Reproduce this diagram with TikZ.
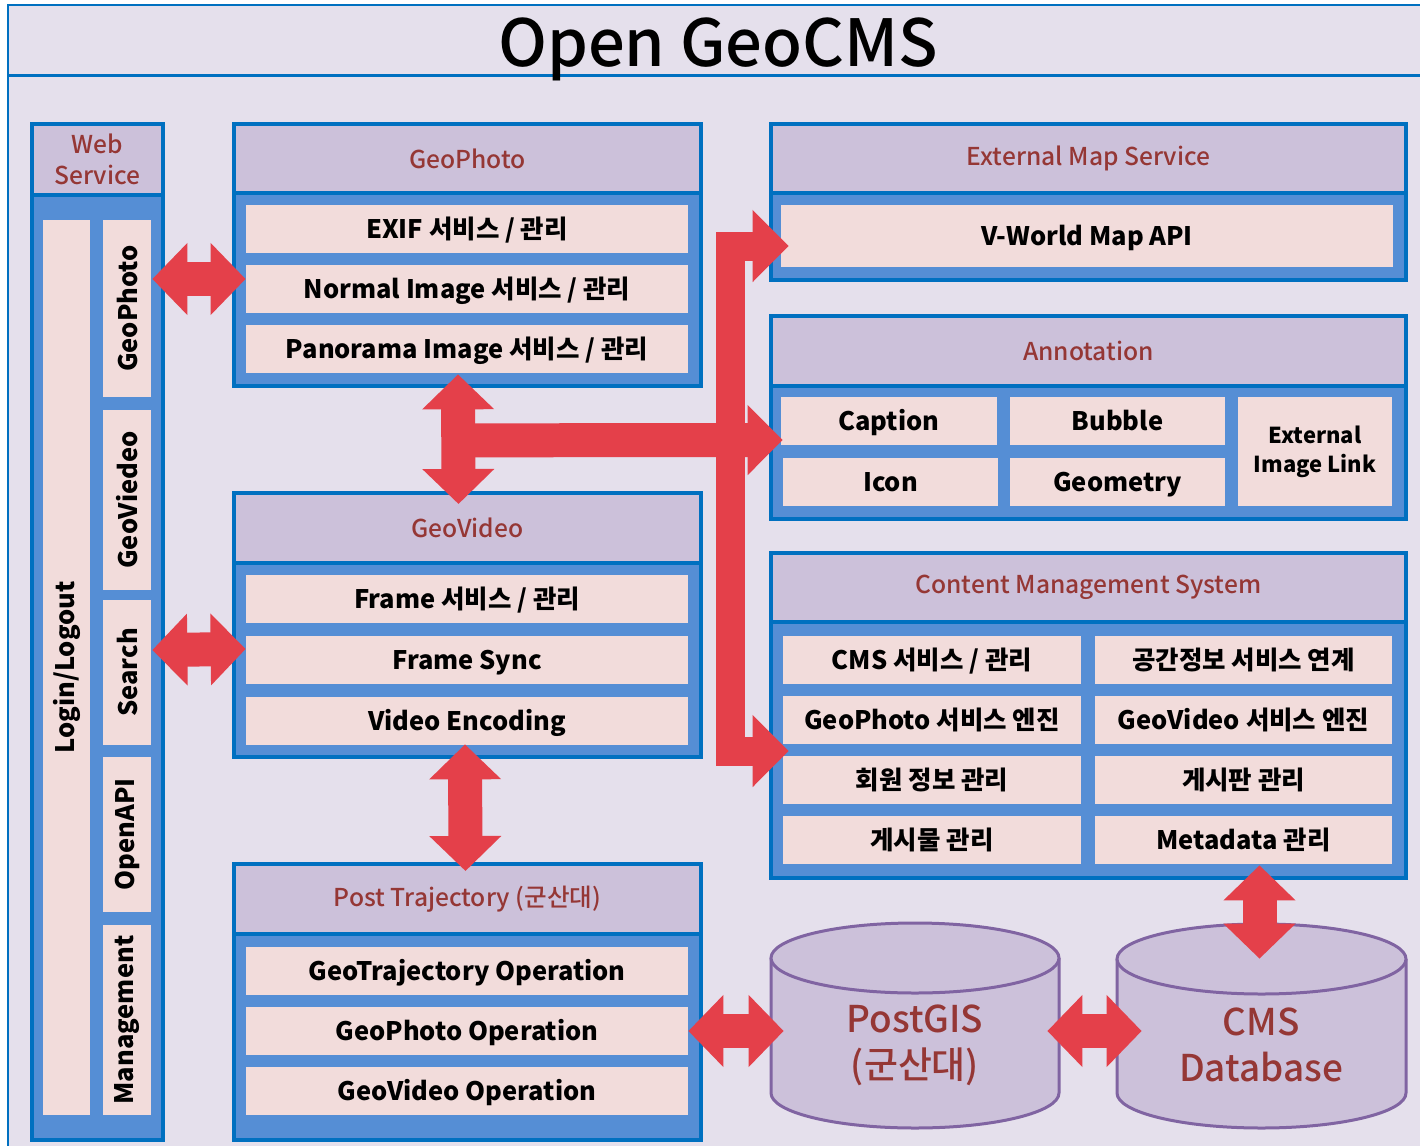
\documentclass[tikz,border=0pt]{standalone}
\usepackage{fontspec}
\setmainfont{Noto Sans CJK KR}
\newfontfamily\medfont{Noto Sans CJK KR Medium}
\usepackage{graphicx}
\usetikzlibrary{calc,arrows.meta}

\definecolor{bgcol}{RGB}{229,224,236}
\definecolor{lineblue}{RGB}{0,112,192}
\definecolor{headfill}{RGB}{204,193,218}
\definecolor{bodyblue}{RGB}{85,142,213}
\definecolor{cellfill}{RGB}{242,220,219}
\definecolor{headred}{RGB}{149,55,53}
\definecolor{arrowred}{RGB}{228,64,74}
\definecolor{dbline}{RGB}{128,100,162}

\tikzset{
	box/.style n args={4}{at={({(#1+#3)/2},{(#2+#4)/2})}, minimum width={(#3-#1)*0.02cm}, minimum height={(#4-#2)*0.02cm}},
	panelhead/.style={rectangle, fill=headfill, draw=lineblue, line width=0.08cm, inner sep=0pt, text=headred, font=\medfont\fontsize{14pt}{18pt}\selectfont, align=center},
	panelbody/.style={rectangle, fill=bodyblue, draw=lineblue, line width=0.08cm, inner sep=0pt},
	vcell/.style={rectangle, fill=cellfill, inner sep=0pt, font=\bfseries\fontsize{14.5pt}{17pt}\selectfont, align=center},
	cell/.style={vcell, text height=13pt, text depth=2.4pt},
	dbbody/.style={fill=headfill, draw=dbline, line width=0.06cm},
	dblabel/.style={text=headred, font=\medfont\fontsize{21pt}{26pt}\selectfont, align=center},
	fat/.style={draw=arrowred, line width=0.68cm, {Triangle[length=0.7cm,width=1.4cm]}-{Triangle[length=0.7cm,width=1.4cm]}},
	oneway/.style={draw=arrowred, line width=0.68cm, -{Triangle[length=0.7cm,width=1.36cm]}},
	bus/.style={draw=arrowred, line width=0.58cm, line join=miter, {Triangle[length=0.72cm,width=1.4cm]}-{Triangle[length=0.72cm,width=1.4cm]}},
}

\begin{document}
\begin{tikzpicture}[x=0.02cm, y=-0.02cm]
	\useasboundingbox (0,0) rectangle (1420,1146);
	\fill[white] (0,0) rectangle (1420,1146);
	\fill[bgcol] (8,5) rectangle (1420,1146);
	\draw[lineblue, line width=0.04cm] (8,1146) -- (8,5) -- (1420,5);
	\draw[lineblue, line width=0.06cm] (8,75) -- (1420,75);
	\node[font=\medfont\fontsize{37pt}{40pt}\selectfont] (title) at (718,49) {Open GeoCMS};

	\node[panelbody, box={32}{195}{163}{1140}] (wsBody) {};
	\node[panelhead, box={32}{124}{163}{195}] (wsHead) {Web\\Service};
	\node[vcell, box={43}{220}{90}{1115}] (wsLogin) {\rotatebox{90}{Login/Logout}};
	\node[vcell, box={103}{220}{151}{397}] (wsPhoto) {\rotatebox{90}{GeoPhoto}};
	\node[vcell, box={103}{410}{151}{590}] (wsVideo) {\rotatebox{90}{GeoViedeo}};
	\node[vcell, box={103}{600}{151}{745}] (wsSearch) {\rotatebox{90}{Search}};
	\node[vcell, box={103}{757}{151}{912}] (wsApi) {\rotatebox{90}{OpenAPI}};
	\node[vcell, box={103}{925}{151}{1115}] (wsManage) {\rotatebox{90}{Management}};

	\node[panelbody, box={234}{193}{701}{386}] (gpBody) {};
	\node[panelhead, box={234}{124}{701}{193}] (gpHead) {GeoPhoto};
	\foreach \txt [count=\i] in {EXIF 서비스 / 관리, Normal Image 서비스 / 관리, Panorama Image 서비스 / 관리} {
		\pgfmathsetmacro\ya{205 + (\i-1)*60}
		\node[cell, box={246}{\ya}{688}{\ya+48}] (gpRow\i) {\txt};
	}

	\node[panelbody, box={234}{563}{701}{757}] (gvBody) {};
	\node[panelhead, box={234}{493}{701}{563}] (gvHead) {GeoVideo};
	\foreach \txt [count=\i] in {Frame 서비스 / 관리, Frame Sync, Video Encoding} {
		\pgfmathsetmacro\ya{575 + (\i-1)*61}
		\node[cell, box={246}{\ya}{688}{\ya+48}] (gvRow\i) {\txt};
	}

	\node[panelbody, box={234}{934}{701}{1140}] (ptBody) {};
	\node[panelhead, box={234}{864}{701}{934}] (ptHead) {Post Trajectory (군산대)};
	\foreach \txt [count=\i] in {GeoTrajectory Operation, GeoPhoto Operation, GeoVideo Operation} {
		\pgfmathsetmacro\ya{947 + (\i-1)*60}
		\node[cell, box={246}{\ya}{688}{\ya+48}] (ptRow\i) {\txt};
	}

	\node[panelbody, box={771}{193}{1406}{280}] (emBody) {};
	\node[panelhead, box={771}{124}{1406}{193}] (emHead) {External Map Service};
	\node[cell, box={781}{205}{1393}{267}] (emRow) {V-World Map API};

	\node[panelbody, box={771}{386}{1406}{519}] (anBody) {};
	\node[panelhead, box={771}{316}{1406}{386}] (anHead) {Annotation};
	\node[cell, box={781}{397}{997}{445}] (anCaption) {Caption};
	\node[cell, box={783}{458}{998}{506}] (anIcon) {Icon};
	\node[cell, box={1010}{397}{1225}{445}] (anBubble) {Bubble};
	\node[cell, box={1010}{458}{1225}{506}] (anGeometry) {Geometry};
	\node[vcell, box={1238}{397}{1392}{506}, font=\bfseries\fontsize{12.5pt}{16.5pt}\selectfont] (anLink) {External\\Image Link};

	\node[panelbody, box={771}{622}{1406}{878}] (cmsBody) {};
	\node[panelhead, box={771}{553}{1406}{622}] (cmsHead) {Content Management System};
	\foreach \txt [count=\i] in {CMS 서비스 / 관리, GeoPhoto 서비스 엔진, 회원 정보 관리, 게시물 관리} {
		\pgfmathsetmacro\ya{636 + (\i-1)*60}
		\node[cell, box={783}{\ya}{1081}{\ya+48}] (cmsL\i) {\txt};
	}
	\foreach \txt [count=\i] in {공간정보 서비스 연계, GeoVideo 서비스 엔진, 게시판 관리, Metadata 관리} {
		\pgfmathsetmacro\ya{636 + (\i-1)*60}
		\node[cell, box={1095}{\ya}{1392}{\ya+48}] (cmsR\i) {\txt};
	}

	\filldraw[dbbody] (771,958) -- (771,1093) arc (180:0:144 and 35) -- (1059,958);
	\filldraw[dbbody] (915,958) ellipse (144 and 35);
	\node[box={771}{923}{1059}{1128}, inner sep=0pt] (pgis) {};
	\node[dblabel] (pgisText) at (915,1045) {PostGIS\\(군산대)};
	\filldraw[dbbody] (1117,959) -- (1117,1093) arc (180:0:144.5 and 35) -- (1406,959);
	\filldraw[dbbody] (1261.5,959) ellipse (144.5 and 35);
	\node[box={1117}{923}{1406}{1128}, inner sep=0pt] (cmsdb) {};
	\node[dblabel] (cmsdbText) at (1261,1045) {CMS\\Database};

	\draw[fat] ($(wsPhoto.east)+(1,-29.5)$) -- ($(gpRow2.west)+(0,-10)$);
	\draw[fat] ($(wsSearch.east)+(1,-22.5)$) -- ($(gvRow2.west)+(0,-11)$);
	\draw[fat] ($(gpRow3.south)+(-9,1)$) -- ($(gvHead.north)+(-9,13)$);
	\draw[oneway] ($(gpRow3.south)+(-9,67)$) -- ($(anCaption.west)+(2,19)$);
	\draw[bus] ($(emRow.west)+(8,10)$) -- ++(-58,0) |- ($(cmsL3.west)+(6,-29)$);
	\draw[fat] ($(gvRow3.south)+(-2,-1)$) -- ($(ptHead.north)+(-2,9)$);
	\draw[fat] (ptRow2.east) -- ($(ptRow2.east -| pgis.west)+(13,0)$);
	\draw[fat] ($(ptRow2.east -| pgis.east)+(-12,0)$) -- ($(ptRow2.east -| cmsdb.west)+(25,0)$);
	\draw[fat] ($(cmsR4.south)+(16,1)$) -- ($(cmsdb.north)+(-2,36)$);
\end{tikzpicture}
\end{document}
